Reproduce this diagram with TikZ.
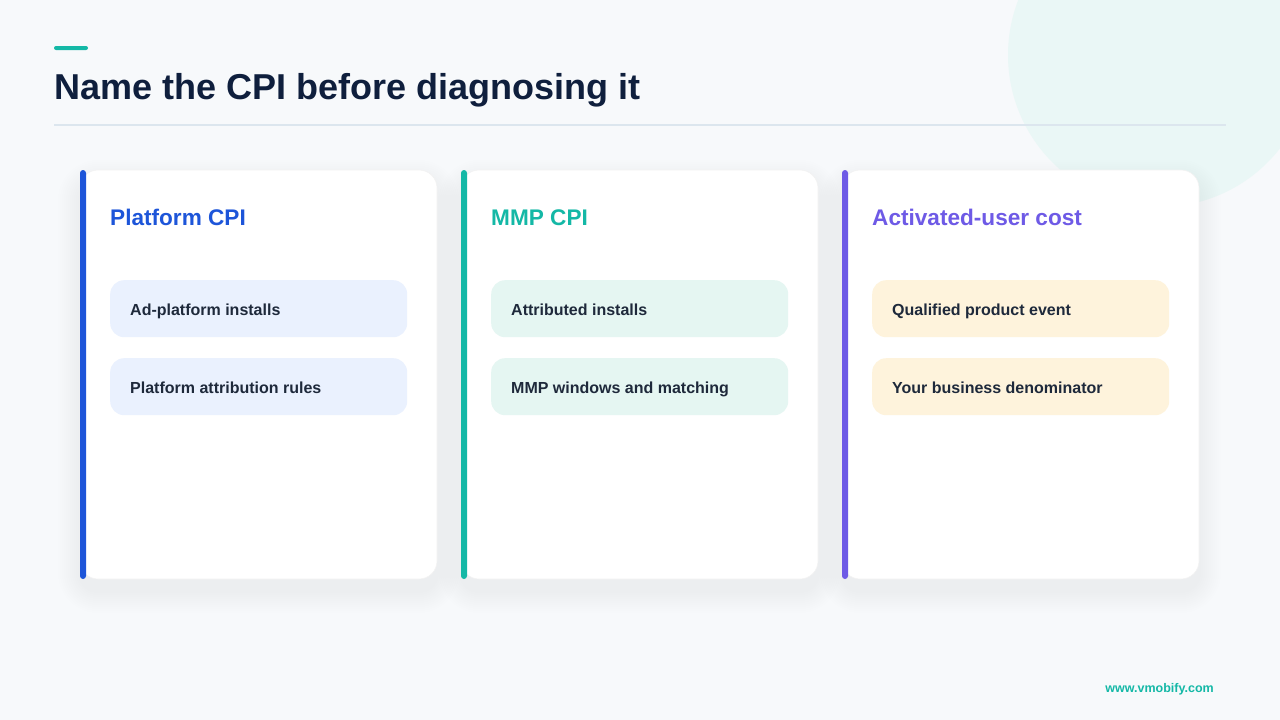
\documentclass[tikz,border=0pt]{standalone}
\usepackage{fontspec}
\setmainfont{Liberation Sans}
\usetikzlibrary{calc}
\definecolor{bg}{HTML}{F7F9FB}
\definecolor{blob}{HTML}{EAF7F6}
\definecolor{teal}{HTML}{14B8A6}
\definecolor{navy}{HTML}{0F1F3D}
\definecolor{rulec}{HTML}{DCE6EE}
\definecolor{blueA}{HTML}{1D55D9}
\definecolor{purpleA}{HTML}{6E5AE6}
\definecolor{pillblue}{HTML}{EAF1FE}
\definecolor{pillteal}{HTML}{E5F6F2}
\definecolor{pillamber}{HTML}{FEF3DC}
\definecolor{pilltext}{HTML}{1E293B}
\definecolor{shadowc}{HTML}{3A4A85}
\tikzset{
  cardbox/.style={fill=white, draw=black!5, line width=0.6pt, rounded corners=18pt},
  cardbar/.style={rounded corners=3pt},
  cardtitle/.style={anchor=base west, inner sep=0pt, font=\fontsize{22.6}{26}\selectfont\bfseries},
  pillbox/.style={rounded corners=14pt, minimum width=297pt, minimum height=57pt, anchor=north west, inner sep=0pt},
  pilltxt/.style={anchor=base west, inner sep=0pt, font=\fontsize{16}{19}\selectfont\bfseries, text=pilltext},
}
\begin{document}
\begin{tikzpicture}[x=1pt,y=-1pt]
\useasboundingbox (0,0) rectangle (1280,720);
\fill[bg] (0,0) rectangle (1280,720);
\begin{scope}
\clip (0,0) rectangle (1280,720);
\fill[blob] (1160,55) circle (152);
\end{scope}
% header
\fill[teal, rounded corners=2pt] (54,46) rectangle (88,50);
\node[anchor=base west, inner sep=0pt, text=navy, font=\fontsize{36}{40}\selectfont\bfseries] (title) at (54,99) {Name the CPI before diagnosing it};
\draw[rulec, line width=1.2pt] (54,125) -- (1226,125);
% cards
\foreach \i/\xx/\acc/\pill/\ttl/\pa/\pb in {
  1/80/blueA/pillblue/Platform CPI/Ad-platform installs/Platform attribution rules,
  2/461/teal/pillteal/MMP CPI/Attributed installs/MMP windows and matching,
  3/842/purpleA/pillamber/Activated-user cost/Qualified product event/Your business denominator}{
  % soft shadow
  \foreach \k in {2,4,...,22}{
    \fill[shadowc, opacity=0.0045, rounded corners={18pt+\k pt}]
      ($(\xx,170)+(-\k,-\k+12)$) rectangle ($(\xx+357,579)+(\k,\k+12)$);
  }
  \draw[cardbox] (\xx,170) rectangle (\xx+357,579);
  \fill[\acc, cardbar] (\xx,170) rectangle (\xx+6,579);
  \node[cardtitle, text=\acc] (t\i) at (\xx+30,225) {\ttl};
  \node[pillbox, fill=\pill] (pa\i) at (\xx+30,280) {};
  \node[pilltxt] (pat\i) at ($(pa\i.north west)+(20,35)$) {\pa};
  \node[pillbox, fill=\pill] (pb\i) at (\xx+30,358) {};
  \node[pilltxt] (pbt\i) at ($(pb\i.north west)+(20,35)$) {\pb};
}
% footer
\node[anchor=base east, inner sep=0pt, text=teal, font=\fontsize{12.5}{15}\selectfont\bfseries] (footer) at (1214,692) {www.vmobify.com};
\end{tikzpicture}
\end{document}
